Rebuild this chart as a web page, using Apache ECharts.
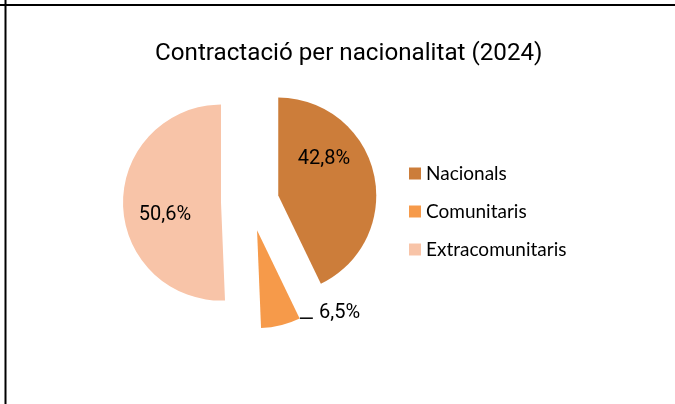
<!DOCTYPE html>
<html>
<head>
<meta charset="utf-8">
<script src="https://cdn.jsdelivr.net/npm/echarts@6/dist/echarts.min.js"></script>
<style>
  html, body { margin: 0; padding: 0; background: #fff; }
  #chart { width: 675px; height: 404px; }
</style>
</head>
<body>
<div id="chart"></div>
<script>
// dades
var categories = ['Nacionals', 'Comunitaris', 'Extracomunitaris'];
var values = [42.8, 6.5, 50.6];
var colors = ['#CC7D3A', '#F69A4A', '#F8C4A8'];

var chart = echarts.init(document.getElementById('chart'));

// desplaçament de les etiquetes respecte a la posició per defecte
var labelShift = [[-5, -25], [27, -17], [-4, 11]];

chart.setOption({
  animation: false,
  title: {
    text: 'Contractació per nacionalitat (2024)',
    left: 150,
    top: 37,
    textStyle: { fontFamily: 'Roboto', fontSize: 24.2, fontWeight: 'normal', color: '#000' }
  },
  legend: {
    orient: 'vertical',
    left: 409,
    top: 164,
    padding: 0,
    itemWidth: 12,
    itemHeight: 12,
    itemGap: 19,
    icon: 'rect',
    selectedMode: false,
    textStyle: { fontFamily: 'Lato', fontSize: 19, lineHeight: 18, color: '#000' },
    data: categories
  },
  graphic: [
    { type: 'line', shape: { x1: 0, y1: 5, x2: 675, y2: 5 }, style: { stroke: '#000', lineWidth: 2 } },
    { type: 'line', shape: { x1: 5.5, y1: 0, x2: 5.5, y2: 404 }, style: { stroke: '#000', lineWidth: 2 } }
  ],
  series: [{
    type: 'pie',
    center: [250, 202],
    radius: 98,
    startAngle: 90,
    clockwise: true,
    selectedMode: 'multiple',
    selectedOffset: 29,
    select: { itemStyle: { borderWidth: 0 } },
    emphasis: { disabled: true },
    avoidLabelOverlap: false,
    label: {
      position: 'inside',
      fontFamily: 'Roboto',
      fontSize: 20,
      color: '#000',
      formatter: function (p) { return p.value.toFixed(1).replace('.', ',') + '%'; }
    },
    labelLayout: function (p) {
      var s = labelShift[p.dataIndex];
      var out = { dx: s[0], dy: s[1] };
      // línia guia curta i horitzontal cap a l'etiqueta exterior
      if (p.labelLinePoints) {
        var e = p.labelLinePoints[0];
        out.labelLinePoints = [[e[0] + 19, e[1] - 7], [e[0] + 25, e[1] - 7], [e[0] + 32, e[1] - 7]];
      }
      return out;
    },
    data: categories.map(function (c, i) {
      var item = { name: c, value: values[i], selected: true, itemStyle: { color: colors[i] } };
      if (i === 1) {
        item.label = { position: 'outside', distanceToLabelLine: 5 };
        item.labelLine = { show: true, length: 5, length2: 5, lineStyle: { color: '#000', width: 1.5 } };
      }
      return item;
    })
  }]
});
</script>
</body>
</html>
